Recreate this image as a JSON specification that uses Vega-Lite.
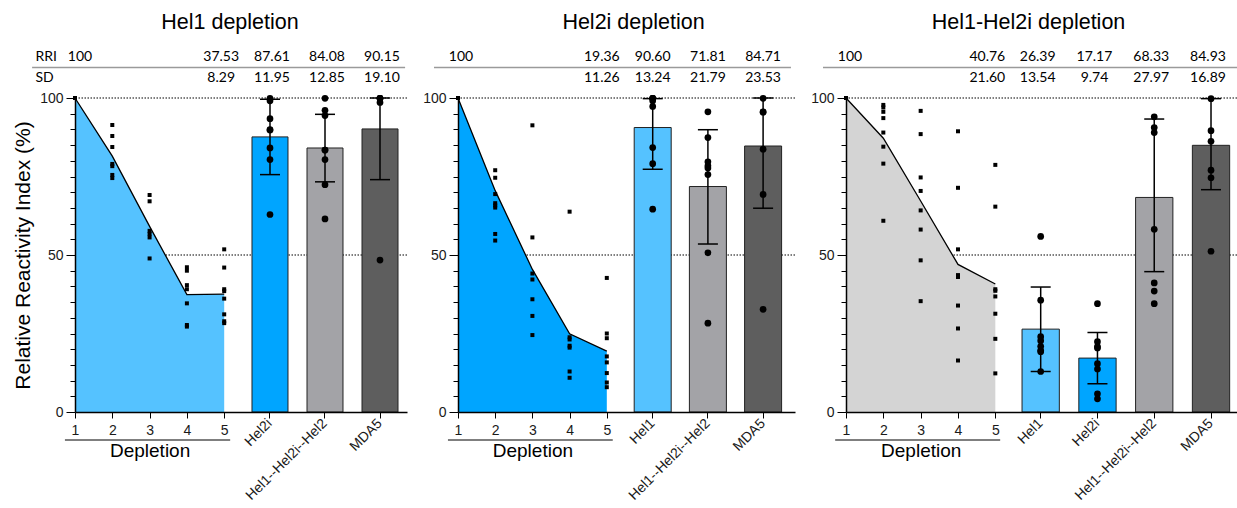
{
  "$schema": "https://vega.github.io/schema/vega-lite/v6.json",
  "padding": {"left": 12, "top": 11, "right": 0, "bottom": 0},
  "background": "white",
  "config": {
    "view": {"stroke": null},
    "axis": {"domainColor": "black", "tickColor": "black", "labelColor": "#1a1a1a", "labelFont": "Liberation Sans", "titleFont": "Liberation Sans", "titleFontWeight": "normal", "titleColor": "black", "grid": false, "labelFontSize": 14},
    "title": {"font": "Liberation Sans", "fontWeight": "normal", "fontSize": 21.5, "color": "black"}
  },
  "datasets": {
    "refs": [{"level": 100}, {"level": 50}],
    "means": [
      {"panel": "Hel1", "step": 1, "RRI": 100},
      {"panel": "Hel1", "step": 2, "RRI": 81.5},
      {"panel": "Hel1", "step": 3, "RRI": 59.1},
      {"panel": "Hel1", "step": 4, "RRI": 37.4},
      {"panel": "Hel1", "step": 5, "RRI": 37.53, "SD": 8.29},
      {"panel": "Hel2i", "step": 1, "RRI": 100},
      {"panel": "Hel2i", "step": 2, "RRI": 70.5},
      {"panel": "Hel2i", "step": 3, "RRI": 45.4},
      {"panel": "Hel2i", "step": 4, "RRI": 24.9},
      {"panel": "Hel2i", "step": 5, "RRI": 19.36, "SD": 11.26},
      {"panel": "Hel1-Hel2i", "step": 1, "RRI": 100},
      {"panel": "Hel1-Hel2i", "step": 2, "RRI": 87.2},
      {"panel": "Hel1-Hel2i", "step": 3, "RRI": 67.2},
      {"panel": "Hel1-Hel2i", "step": 4, "RRI": 47.0},
      {"panel": "Hel1-Hel2i", "step": 5, "RRI": 40.76, "SD": 21.6}
    ],
    "points": [
      {"panel": "Hel1", "step": 1, "value": 100},
      {"panel": "Hel1", "step": 2, "value": 91.4}, {"panel": "Hel1", "step": 2, "value": 87.9}, {"panel": "Hel1", "step": 2, "value": 84.4}, {"panel": "Hel1", "step": 2, "value": 79.0}, {"panel": "Hel1", "step": 2, "value": 78.3}, {"panel": "Hel1", "step": 2, "value": 75.5}, {"panel": "Hel1", "step": 2, "value": 74.5},
      {"panel": "Hel1", "step": 3, "value": 69.1}, {"panel": "Hel1", "step": 3, "value": 67.1}, {"panel": "Hel1", "step": 3, "value": 57.7}, {"panel": "Hel1", "step": 3, "value": 56.7}, {"panel": "Hel1", "step": 3, "value": 55.6}, {"panel": "Hel1", "step": 3, "value": 48.9},
      {"panel": "Hel1", "step": 4, "value": 46.1}, {"panel": "Hel1", "step": 4, "value": 45.0}, {"panel": "Hel1", "step": 4, "value": 40.4}, {"panel": "Hel1", "step": 4, "value": 39.1}, {"panel": "Hel1", "step": 4, "value": 34.6}, {"panel": "Hel1", "step": 4, "value": 27.7}, {"panel": "Hel1", "step": 4, "value": 27.2},
      {"panel": "Hel1", "step": 5, "value": 51.8}, {"panel": "Hel1", "step": 5, "value": 46.0}, {"panel": "Hel1", "step": 5, "value": 39.1}, {"panel": "Hel1", "step": 5, "value": 38.5}, {"panel": "Hel1", "step": 5, "value": 36.1}, {"panel": "Hel1", "step": 5, "value": 31.1}, {"panel": "Hel1", "step": 5, "value": 28.9}, {"panel": "Hel1", "step": 5, "value": 28.3},
      {"panel": "Hel2i", "step": 1, "value": 100},
      {"panel": "Hel2i", "step": 2, "value": 77.0}, {"panel": "Hel2i", "step": 2, "value": 74.6}, {"panel": "Hel2i", "step": 2, "value": 69.4}, {"panel": "Hel2i", "step": 2, "value": 66.5}, {"panel": "Hel2i", "step": 2, "value": 65.8}, {"panel": "Hel2i", "step": 2, "value": 65.1}, {"panel": "Hel2i", "step": 2, "value": 56.7}, {"panel": "Hel2i", "step": 2, "value": 54.6},
      {"panel": "Hel2i", "step": 3, "value": 91.3}, {"panel": "Hel2i", "step": 3, "value": 55.6}, {"panel": "Hel2i", "step": 3, "value": 44.1}, {"panel": "Hel2i", "step": 3, "value": 42.2}, {"panel": "Hel2i", "step": 3, "value": 35.9}, {"panel": "Hel2i", "step": 3, "value": 30.6}, {"panel": "Hel2i", "step": 3, "value": 24.5},
      {"panel": "Hel2i", "step": 4, "value": 63.8}, {"panel": "Hel2i", "step": 4, "value": 23.8}, {"panel": "Hel2i", "step": 4, "value": 23.1}, {"panel": "Hel2i", "step": 4, "value": 21.1}, {"panel": "Hel2i", "step": 4, "value": 20.5}, {"panel": "Hel2i", "step": 4, "value": 12.9}, {"panel": "Hel2i", "step": 4, "value": 10.9},
      {"panel": "Hel2i", "step": 5, "value": 42.7}, {"panel": "Hel2i", "step": 5, "value": 25.0}, {"panel": "Hel2i", "step": 5, "value": 23.5}, {"panel": "Hel2i", "step": 5, "value": 17.7}, {"panel": "Hel2i", "step": 5, "value": 15.8}, {"panel": "Hel2i", "step": 5, "value": 12.4}, {"panel": "Hel2i", "step": 5, "value": 9.4}, {"panel": "Hel2i", "step": 5, "value": 7.9},
      {"panel": "Hel1-Hel2i", "step": 1, "value": 100},
      {"panel": "Hel1-Hel2i", "step": 2, "value": 97.8}, {"panel": "Hel1-Hel2i", "step": 2, "value": 97.0}, {"panel": "Hel1-Hel2i", "step": 2, "value": 95.6}, {"panel": "Hel1-Hel2i", "step": 2, "value": 93.6}, {"panel": "Hel1-Hel2i", "step": 2, "value": 89.0}, {"panel": "Hel1-Hel2i", "step": 2, "value": 84.5}, {"panel": "Hel1-Hel2i", "step": 2, "value": 79.1}, {"panel": "Hel1-Hel2i", "step": 2, "value": 60.9},
      {"panel": "Hel1-Hel2i", "step": 3, "value": 95.9}, {"panel": "Hel1-Hel2i", "step": 3, "value": 88.5}, {"panel": "Hel1-Hel2i", "step": 3, "value": 74.7}, {"panel": "Hel1-Hel2i", "step": 3, "value": 70.4}, {"panel": "Hel1-Hel2i", "step": 3, "value": 64.2}, {"panel": "Hel1-Hel2i", "step": 3, "value": 58.1}, {"panel": "Hel1-Hel2i", "step": 3, "value": 48.3}, {"panel": "Hel1-Hel2i", "step": 3, "value": 35.3},
      {"panel": "Hel1-Hel2i", "step": 4, "value": 89.4}, {"panel": "Hel1-Hel2i", "step": 4, "value": 71.4}, {"panel": "Hel1-Hel2i", "step": 4, "value": 51.8}, {"panel": "Hel1-Hel2i", "step": 4, "value": 43.6}, {"panel": "Hel1-Hel2i", "step": 4, "value": 43.0}, {"panel": "Hel1-Hel2i", "step": 4, "value": 33.9}, {"panel": "Hel1-Hel2i", "step": 4, "value": 26.6}, {"panel": "Hel1-Hel2i", "step": 4, "value": 16.4},
      {"panel": "Hel1-Hel2i", "step": 5, "value": 78.7}, {"panel": "Hel1-Hel2i", "step": 5, "value": 65.4}, {"panel": "Hel1-Hel2i", "step": 5, "value": 39.1}, {"panel": "Hel1-Hel2i", "step": 5, "value": 38.6}, {"panel": "Hel1-Hel2i", "step": 5, "value": 36.8}, {"panel": "Hel1-Hel2i", "step": 5, "value": 31.3}, {"panel": "Hel1-Hel2i", "step": 5, "value": 23.3}, {"panel": "Hel1-Hel2i", "step": 5, "value": 12.3}
    ],
    "bars": [
      {"panel": "Hel1", "target": "Hel2i", "RRI": 87.61, "SD": 11.95, "lo": 75.6, "hi": 99.6},
      {"panel": "Hel1", "target": "Hel1--Hel2i--Hel2", "RRI": 84.08, "SD": 12.85, "lo": 73.3, "hi": 94.8},
      {"panel": "Hel1", "target": "MDA5", "RRI": 90.15, "SD": 19.1, "lo": 74.0, "hi": 100},
      {"panel": "Hel2i", "target": "Hel1", "RRI": 90.6, "SD": 13.24, "lo": 77.3, "hi": 99.8},
      {"panel": "Hel2i", "target": "Hel1--Hel2i--Hel2", "RRI": 71.81, "SD": 21.79, "lo": 53.5, "hi": 89.9},
      {"panel": "Hel2i", "target": "MDA5", "RRI": 84.71, "SD": 23.53, "lo": 64.9, "hi": 100},
      {"panel": "Hel1-Hel2i", "target": "Hel1", "RRI": 26.39, "SD": 13.54, "lo": 12.9, "hi": 39.8},
      {"panel": "Hel1-Hel2i", "target": "Hel2i", "RRI": 17.17, "SD": 9.74, "lo": 9.0, "hi": 25.3},
      {"panel": "Hel1-Hel2i", "target": "Hel1--Hel2i--Hel2", "RRI": 68.33, "SD": 27.97, "lo": 44.7, "hi": 93.3},
      {"panel": "Hel1-Hel2i", "target": "MDA5", "RRI": 84.93, "SD": 16.89, "lo": 70.8, "hi": 99.8}
    ],
    "dots": [
      {"panel": "Hel1", "target": "Hel2i", "value": 99.1}, {"panel": "Hel1", "target": "Hel2i", "value": 99.9}, {"panel": "Hel1", "target": "Hel2i", "value": 93.4}, {"panel": "Hel1", "target": "Hel2i", "value": 89.9}, {"panel": "Hel1", "target": "Hel2i", "value": 89.8}, {"panel": "Hel1", "target": "Hel2i", "value": 84.1}, {"panel": "Hel1", "target": "Hel2i", "value": 80.4}, {"panel": "Hel1", "target": "Hel2i", "value": 62.9},
      {"panel": "Hel1", "target": "Hel1--Hel2i--Hel2", "value": 99.9}, {"panel": "Hel1", "target": "Hel1--Hel2i--Hel2", "value": 96.1}, {"panel": "Hel1", "target": "Hel1--Hel2i--Hel2", "value": 94.4}, {"panel": "Hel1", "target": "Hel1--Hel2i--Hel2", "value": 83.4}, {"panel": "Hel1", "target": "Hel1--Hel2i--Hel2", "value": 83.4}, {"panel": "Hel1", "target": "Hel1--Hel2i--Hel2", "value": 80.4}, {"panel": "Hel1", "target": "Hel1--Hel2i--Hel2", "value": 72.4}, {"panel": "Hel1", "target": "Hel1--Hel2i--Hel2", "value": 61.5},
      {"panel": "Hel1", "target": "MDA5", "value": 99.9}, {"panel": "Hel1", "target": "MDA5", "value": 98.6}, {"panel": "Hel1", "target": "MDA5", "value": 99.9}, {"panel": "Hel1", "target": "MDA5", "value": 99.9}, {"panel": "Hel1", "target": "MDA5", "value": 48.4},
      {"panel": "Hel2i", "target": "Hel1", "value": 99.9}, {"panel": "Hel2i", "target": "Hel1", "value": 99.1}, {"panel": "Hel2i", "target": "Hel1", "value": 99.9}, {"panel": "Hel2i", "target": "Hel1", "value": 99.9}, {"panel": "Hel2i", "target": "Hel1", "value": 97.3}, {"panel": "Hel2i", "target": "Hel1", "value": 84.2}, {"panel": "Hel2i", "target": "Hel1", "value": 79.1}, {"panel": "Hel2i", "target": "Hel1", "value": 64.6},
      {"panel": "Hel2i", "target": "Hel1--Hel2i--Hel2", "value": 95.6}, {"panel": "Hel2i", "target": "Hel1--Hel2i--Hel2", "value": 87.4}, {"panel": "Hel2i", "target": "Hel1--Hel2i--Hel2", "value": 78.4}, {"panel": "Hel2i", "target": "Hel1--Hel2i--Hel2", "value": 79.7}, {"panel": "Hel2i", "target": "Hel1--Hel2i--Hel2", "value": 77.7}, {"panel": "Hel2i", "target": "Hel1--Hel2i--Hel2", "value": 75.6}, {"panel": "Hel2i", "target": "Hel1--Hel2i--Hel2", "value": 50.7}, {"panel": "Hel2i", "target": "Hel1--Hel2i--Hel2", "value": 28.3},
      {"panel": "Hel2i", "target": "MDA5", "value": 99.9}, {"panel": "Hel2i", "target": "MDA5", "value": 95.6}, {"panel": "Hel2i", "target": "MDA5", "value": 95.5}, {"panel": "Hel2i", "target": "MDA5", "value": 83.7}, {"panel": "Hel2i", "target": "MDA5", "value": 69.3}, {"panel": "Hel2i", "target": "MDA5", "value": 32.7},
      {"panel": "Hel1-Hel2i", "target": "Hel1", "value": 55.9}, {"panel": "Hel1-Hel2i", "target": "Hel1", "value": 35.6}, {"panel": "Hel1-Hel2i", "target": "Hel1", "value": 24.0}, {"panel": "Hel1-Hel2i", "target": "Hel1", "value": 22.7}, {"panel": "Hel1-Hel2i", "target": "Hel1", "value": 20.9}, {"panel": "Hel1-Hel2i", "target": "Hel1", "value": 19.6}, {"panel": "Hel1-Hel2i", "target": "Hel1", "value": 19.2}, {"panel": "Hel1-Hel2i", "target": "Hel1", "value": 12.9},
      {"panel": "Hel1-Hel2i", "target": "Hel2i", "value": 34.5}, {"panel": "Hel1-Hel2i", "target": "Hel2i", "value": 22.4}, {"panel": "Hel1-Hel2i", "target": "Hel2i", "value": 20.4}, {"panel": "Hel1-Hel2i", "target": "Hel2i", "value": 20.8}, {"panel": "Hel1-Hel2i", "target": "Hel2i", "value": 15.4}, {"panel": "Hel1-Hel2i", "target": "Hel2i", "value": 13.7}, {"panel": "Hel1-Hel2i", "target": "Hel2i", "value": 5.8}, {"panel": "Hel1-Hel2i", "target": "Hel2i", "value": 4.2},
      {"panel": "Hel1-Hel2i", "target": "Hel1--Hel2i--Hel2", "value": 94.0}, {"panel": "Hel1-Hel2i", "target": "Hel1--Hel2i--Hel2", "value": 90.6}, {"panel": "Hel1-Hel2i", "target": "Hel1--Hel2i--Hel2", "value": 89.0}, {"panel": "Hel1-Hel2i", "target": "Hel1--Hel2i--Hel2", "value": 58.2}, {"panel": "Hel1-Hel2i", "target": "Hel1--Hel2i--Hel2", "value": 41.1}, {"panel": "Hel1-Hel2i", "target": "Hel1--Hel2i--Hel2", "value": 38.5}, {"panel": "Hel1-Hel2i", "target": "Hel1--Hel2i--Hel2", "value": 34.5},
      {"panel": "Hel1-Hel2i", "target": "MDA5", "value": 99.8}, {"panel": "Hel1-Hel2i", "target": "MDA5", "value": 89.6}, {"panel": "Hel1-Hel2i", "target": "MDA5", "value": 86.2}, {"panel": "Hel1-Hel2i", "target": "MDA5", "value": 77.0}, {"panel": "Hel1-Hel2i", "target": "MDA5", "value": 74.6}, {"panel": "Hel1-Hel2i", "target": "MDA5", "value": 51.2}
    ]
  },
  "columns": 3,
  "bounds": "flush",
  "align": "each",
  "spacing": {"row": 9, "column": 51},
  "concat": [
    {
      "width": 332, "height": 43,
      "title": {"text": "Hel1 depletion", "offset": 13, "dx": -11},
      "resolve": {"scale": {"x": "independent"}, "axis": {"x": "independent", "y": "independent"}},
      "layer": [
        {"data": {"name": "means"}, "transform": [{"filter": {"field": "panel", "equal": "Hel1"}}, {"filter": {"field": "step", "equal": 1}}],
         "mark": {"type": "text", "font": "Lato", "fontSize": 14, "color": "black", "dx": 5},
         "encoding": {"x": {"field": "step", "type": "quantitative", "scale": {"domain": [1, 9.901], "nice": false, "zero": false}, "axis": null},
           "y": {"datum": "RRI", "scale": {"type": "band", "domain": ["RRI", "SD"], "paddingInner": 0, "paddingOuter": 0}, "bandPosition": 0.5,
             "axis": {"orient": "left", "domain": false, "ticks": false, "tickSize": 0, "labelAlign": "left", "labelBaseline": "middle", "labelPadding": 40, "labelFont": "Lato", "labelFontSize": 14, "labelColor": "black", "title": null}},
           "text": {"field": "RRI", "type": "quantitative", "format": ".0f"}}},
        {"data": {"name": "means"}, "transform": [{"filter": {"field": "panel", "equal": "Hel1"}}, {"filter": {"field": "step", "equal": 5}}],
         "mark": {"type": "text", "font": "Lato", "fontSize": 14, "color": "black", "dx": -3},
         "encoding": {"x": {"field": "step", "type": "quantitative", "scale": {"domain": [1, 9.901], "nice": false, "zero": false}, "axis": null},
           "y": {"datum": "RRI", "bandPosition": 0.5, "axis": null},
           "text": {"field": "RRI", "type": "quantitative", "format": ".2f"}}},
        {"data": {"name": "means"}, "transform": [{"filter": {"field": "panel", "equal": "Hel1"}}, {"filter": {"field": "step", "equal": 5}}],
         "mark": {"type": "text", "font": "Lato", "fontSize": 14, "color": "black", "dx": -3},
         "encoding": {"x": {"field": "step", "type": "quantitative", "scale": {"domain": [1, 9.901], "nice": false, "zero": false}, "axis": null},
           "y": {"datum": "SD", "bandPosition": 0.5, "axis": null},
           "text": {"field": "SD", "type": "quantitative", "format": ".2f"}}},
        {"data": {"name": "bars"}, "transform": [{"filter": {"field": "panel", "equal": "Hel1"}}],
         "mark": {"type": "text", "font": "Lato", "fontSize": 14, "color": "black", "dx": 2},
         "encoding": {"x": {"field": "target", "type": "nominal", "scale": {"type": "band", "domain": ["Hel2i", "Hel1--Hel2i--Hel2", "MDA5"], "range": [168, 332], "paddingInner": 0.3455, "paddingOuter": 0.1636}, "axis": null},
           "y": {"datum": "RRI", "bandPosition": 0.5, "axis": null},
           "text": {"field": "RRI", "type": "quantitative", "format": ".2f"}}},
        {"data": {"name": "bars"}, "transform": [{"filter": {"field": "panel", "equal": "Hel1"}}],
         "mark": {"type": "text", "font": "Lato", "fontSize": 14, "color": "black", "dx": 2},
         "encoding": {"x": {"field": "target", "type": "nominal", "scale": {"type": "band", "domain": ["Hel2i", "Hel1--Hel2i--Hel2", "MDA5"], "range": [168, 332], "paddingInner": 0.3455, "paddingOuter": 0.1636}, "axis": null},
           "y": {"datum": "SD", "bandPosition": 0.5, "axis": null},
           "text": {"field": "SD", "type": "quantitative", "format": ".2f"}}},
        {"data": {"values": [{}]},
         "mark": {"type": "rule", "color": "#9a9a9a", "strokeWidth": 1.5},
         "encoding": {"x": {"datum": -0.15, "type": "quantitative", "scale": {"domain": [1, 9.901], "nice": false, "zero": false}, "axis": null},
           "x2": {"datum": 9.85},
           "y": {"datum": "SD", "bandPosition": 0, "axis": null}}}
      ]
    },
    {
      "width": 337, "height": 43,
      "title": {"text": "Hel2i depletion", "offset": 13, "dx": 7},
      "resolve": {"scale": {"x": "independent"}, "axis": {"x": "independent", "y": "independent"}},
      "layer": [
        {"data": {"name": "means"}, "transform": [{"filter": {"field": "panel", "equal": "Hel2i"}}, {"filter": {"field": "step", "equal": 1}}],
         "mark": {"type": "text", "font": "Lato", "fontSize": 14, "color": "black", "dx": 3},
         "encoding": {"x": {"field": "step", "type": "quantitative", "scale": {"domain": [1, 10.059], "nice": false, "zero": false}, "axis": null},
           "y": {"datum": "RRI", "scale": {"type": "band", "domain": ["RRI", "SD"], "paddingInner": 0, "paddingOuter": 0}, "bandPosition": 0.5, "axis": null},
           "text": {"field": "RRI", "type": "quantitative", "format": ".0f"}}},
        {"data": {"name": "means"}, "transform": [{"filter": {"field": "panel", "equal": "Hel2i"}}, {"filter": {"field": "step", "equal": 5}}],
         "mark": {"type": "text", "font": "Lato", "fontSize": 14, "color": "black", "dx": -5},
         "encoding": {"x": {"field": "step", "type": "quantitative", "scale": {"domain": [1, 10.059], "nice": false, "zero": false}, "axis": null},
           "y": {"datum": "RRI", "bandPosition": 0.5, "axis": null},
           "text": {"field": "RRI", "type": "quantitative", "format": ".2f"}}},
        {"data": {"name": "means"}, "transform": [{"filter": {"field": "panel", "equal": "Hel2i"}}, {"filter": {"field": "step", "equal": 5}}],
         "mark": {"type": "text", "font": "Lato", "fontSize": 14, "color": "black", "dx": -5},
         "encoding": {"x": {"field": "step", "type": "quantitative", "scale": {"domain": [1, 10.059], "nice": false, "zero": false}, "axis": null},
           "y": {"datum": "SD", "bandPosition": 0.5, "axis": null},
           "text": {"field": "SD", "type": "quantitative", "format": ".2f"}}},
        {"data": {"name": "bars"}, "transform": [{"filter": {"field": "panel", "equal": "Hel2i"}}],
         "mark": {"type": "text", "font": "Lato", "fontSize": 14, "color": "black"},
         "encoding": {"x": {"field": "target", "type": "nominal", "scale": {"type": "band", "domain": ["Hel1", "Hel1--Hel2i--Hel2", "MDA5"], "range": [162.8, 337], "paddingInner": 0.3297, "paddingOuter": 0.2428}, "axis": null},
           "y": {"datum": "RRI", "bandPosition": 0.5, "axis": null},
           "text": {"field": "RRI", "type": "quantitative", "format": ".2f"}}},
        {"data": {"name": "bars"}, "transform": [{"filter": {"field": "panel", "equal": "Hel2i"}}],
         "mark": {"type": "text", "font": "Lato", "fontSize": 14, "color": "black"},
         "encoding": {"x": {"field": "target", "type": "nominal", "scale": {"type": "band", "domain": ["Hel1", "Hel1--Hel2i--Hel2", "MDA5"], "range": [162.8, 337], "paddingInner": 0.3297, "paddingOuter": 0.2428}, "axis": null},
           "y": {"datum": "SD", "bandPosition": 0.5, "axis": null},
           "text": {"field": "SD", "type": "quantitative", "format": ".2f"}}},
        {"data": {"values": [{}]},
         "mark": {"type": "rule", "color": "#9a9a9a", "strokeWidth": 1.5},
         "encoding": {"x": {"datum": 0.355, "type": "quantitative", "scale": {"domain": [1, 10.059], "nice": false, "zero": false}, "axis": null},
           "x2": {"datum": 9.95},
           "y": {"datum": "SD", "bandPosition": 0, "axis": null}}}
      ]
    },
    {
      "width": 391, "height": 43,
      "title": {"text": "Hel1-Hel2i depletion", "offset": 13, "dx": -13},
      "resolve": {"scale": {"x": "independent"}, "axis": {"x": "independent", "y": "independent"}},
      "layer": [
        {"data": {"name": "means"}, "transform": [{"filter": {"field": "panel", "equal": "Hel1-Hel2i"}}, {"filter": {"field": "step", "equal": 1}}],
         "mark": {"type": "text", "font": "Lato", "fontSize": 14, "color": "black", "dx": 4},
         "encoding": {"x": {"field": "step", "type": "quantitative", "scale": {"domain": [1, 11.474], "nice": false, "zero": false}, "axis": null},
           "y": {"datum": "RRI", "scale": {"type": "band", "domain": ["RRI", "SD"], "paddingInner": 0, "paddingOuter": 0}, "bandPosition": 0.5, "axis": null},
           "text": {"field": "RRI", "type": "quantitative", "format": ".0f"}}},
        {"data": {"name": "means"}, "transform": [{"filter": {"field": "panel", "equal": "Hel1-Hel2i"}}, {"filter": {"field": "step", "equal": 5}}],
         "mark": {"type": "text", "font": "Lato", "fontSize": 14, "color": "black", "dx": -8},
         "encoding": {"x": {"field": "step", "type": "quantitative", "scale": {"domain": [1, 11.474], "nice": false, "zero": false}, "axis": null},
           "y": {"datum": "RRI", "bandPosition": 0.5, "axis": null},
           "text": {"field": "RRI", "type": "quantitative", "format": ".2f"}}},
        {"data": {"name": "means"}, "transform": [{"filter": {"field": "panel", "equal": "Hel1-Hel2i"}}, {"filter": {"field": "step", "equal": 5}}],
         "mark": {"type": "text", "font": "Lato", "fontSize": 14, "color": "black", "dx": -8},
         "encoding": {"x": {"field": "step", "type": "quantitative", "scale": {"domain": [1, 11.474], "nice": false, "zero": false}, "axis": null},
           "y": {"datum": "SD", "bandPosition": 0.5, "axis": null},
           "text": {"field": "SD", "type": "quantitative", "format": ".2f"}}},
        {"data": {"name": "bars"}, "transform": [{"filter": {"field": "panel", "equal": "Hel1-Hel2i"}}],
         "mark": {"type": "text", "font": "Lato", "fontSize": 14, "color": "black", "dx": -3},
         "encoding": {"x": {"field": "target", "type": "nominal", "scale": {"type": "band", "domain": ["Hel1", "Hel2i", "Hel1--Hel2i--Hel2", "MDA5"], "range": [168.7, 391], "paddingInner": 0.343, "paddingOuter": 0.1293}, "axis": null},
           "y": {"datum": "RRI", "bandPosition": 0.5, "axis": null},
           "text": {"field": "RRI", "type": "quantitative", "format": ".2f"}}},
        {"data": {"name": "bars"}, "transform": [{"filter": {"field": "panel", "equal": "Hel1-Hel2i"}}],
         "mark": {"type": "text", "font": "Lato", "fontSize": 14, "color": "black", "dx": -3},
         "encoding": {"x": {"field": "target", "type": "nominal", "scale": {"type": "band", "domain": ["Hel1", "Hel2i", "Hel1--Hel2i--Hel2", "MDA5"], "range": [168.7, 391], "paddingInner": 0.343, "paddingOuter": 0.1293}, "axis": null},
           "y": {"datum": "SD", "bandPosition": 0.5, "axis": null},
           "text": {"field": "SD", "type": "quantitative", "format": ".2f"}}},
        {"data": {"values": [{}]},
         "mark": {"type": "rule", "color": "#9a9a9a", "strokeWidth": 1.5},
         "encoding": {"x": {"datum": 0.384, "type": "quantitative", "scale": {"domain": [1, 11.474], "nice": false, "zero": false}, "axis": null},
           "x2": {"datum": 11.474},
           "y": {"datum": "SD", "bandPosition": 0, "axis": null}}}
      ]
    },
    {
      "width": 332, "height": 314,
      "resolve": {"scale": {"x": "independent"}, "axis": {"x": "independent", "y": "independent"}},
      "layer": [
        {"data": {"name": "refs"}, "mark": {"type": "rule", "color": "black", "strokeWidth": 1.2, "strokeDash": [1.5, 1.5]},
         "encoding": {"y": {"field": "level", "type": "quantitative", "scale": {"domain": [0, 100], "nice": false, "zero": false}, "axis": null}}},
        {"data": {"name": "means"}, "transform": [{"filter": {"field": "panel", "equal": "Hel1"}}],
         "mark": {"type": "area", "color": "#55C2FF", "opacity": 1},
         "encoding": {"x": {"field": "step", "type": "quantitative", "scale": {"domain": [1, 9.901], "nice": false, "zero": false},
             "axis": {"orient": "bottom", "values": [1, 2, 3, 4, 5], "format": "d", "domain": true, "domainWidth": 1.5, "tickSize": 6, "labelPadding": 5, "labelAngle": 0, "labelFlush": false, "labelOverlap": false, "title": "Depletion", "titleFontSize": 19, "titlePadding": 4, "titleX": 74.6, "titleAlign": "center", "zindex": 1}},
           "y": {"field": "RRI", "type": "quantitative", "scale": {"domain": [0, 100], "nice": false, "zero": false}, "axis": null}}},
        {"data": {"name": "means"}, "transform": [{"filter": {"field": "panel", "equal": "Hel1"}}],
         "mark": {"type": "line", "color": "black", "strokeWidth": 1.3},
         "encoding": {"x": {"field": "step", "type": "quantitative", "scale": {"domain": [1, 9.901], "nice": false, "zero": false}, "axis": null},
           "y": {"field": "RRI", "type": "quantitative", "scale": {"domain": [0, 100], "nice": false, "zero": false}, "axis": null}}},
        {"data": {"name": "points"}, "transform": [{"filter": {"field": "panel", "equal": "Hel1"}}],
         "mark": {"type": "point", "shape": "square", "filled": true, "size": 16, "color": "black", "opacity": 1},
         "encoding": {"x": {"field": "step", "type": "quantitative", "scale": {"domain": [1, 9.901], "nice": false, "zero": false}, "axis": null},
           "y": {"field": "value", "type": "quantitative", "scale": {"domain": [0, 100], "nice": false, "zero": false}, "axis": null}}},
        {"data": {"values": [{}]},
         "mark": {"type": "rule", "color": "#555555", "strokeWidth": 1.5},
         "encoding": {"x": {"datum": 0.73, "type": "quantitative", "scale": {"domain": [1, 9.901], "nice": false, "zero": false}, "axis": null},
           "x2": {"datum": 5.16},
           "y": {"datum": -8.9, "type": "quantitative", "scale": {"domain": [0, 100], "nice": false, "zero": false}, "axis": null}}},
        {"data": {"name": "bars"}, "transform": [{"filter": {"field": "panel", "equal": "Hel1"}}],
         "mark": {"type": "bar", "stroke": "#222222", "strokeWidth": 1},
         "encoding": {"x": {"field": "target", "type": "nominal", "scale": {"type": "band", "domain": ["Hel2i", "Hel1--Hel2i--Hel2", "MDA5"], "range": [168, 332], "paddingInner": 0.3455, "paddingOuter": 0.1636},
             "axis": {"orient": "bottom", "domain": false, "tickSize": 6, "labelAngle": -45, "labelAlign": "right", "labelBaseline": "middle", "labelPadding": 3, "title": null, "zindex": 1}},
           "y": {"field": "RRI", "type": "quantitative", "scale": {"domain": [0, 100], "nice": false, "zero": false},
             "axis": {"orient": "left", "values": [0, 5, 10, 15, 20, 25, 30, 35, 40, 45, 50, 55, 60, 65, 70, 75, 80, 85, 90, 95, 100], "labelExpr": "datum.value % 50 === 0 ? datum.label : ''", "tickSize": {"condition": {"test": "datum.value % 50 === 0", "value": 9}, "value": 5}, "labelPadding": 3, "domainWidth": 1.5, "title": "Relative Reactivity Index (%)", "titleFontSize": 21, "titlePadding": 6, "zindex": 1}},
           "color": {"field": "target", "type": "nominal", "scale": {"domain": ["Hel1", "Hel2i", "Hel1--Hel2i--Hel2", "MDA5"], "range": ["#55C2FF", "#00A5FF", "#A3A3A7", "#5E5E5E"]}, "legend": null}}},
        {"data": {"name": "bars"}, "transform": [{"filter": {"field": "panel", "equal": "Hel1"}}],
         "mark": {"type": "rule", "color": "black", "strokeWidth": 1.5},
         "encoding": {"x": {"field": "target", "type": "nominal", "scale": {"type": "band", "domain": ["Hel2i", "Hel1--Hel2i--Hel2", "MDA5"], "range": [168, 332], "paddingInner": 0.3455, "paddingOuter": 0.1636}, "axis": null},
           "y": {"field": "lo", "type": "quantitative", "scale": {"domain": [0, 100], "nice": false, "zero": false}, "axis": null},
           "y2": {"field": "hi"}}},
        {"data": {"name": "bars"}, "transform": [{"filter": {"field": "panel", "equal": "Hel1"}}],
         "mark": {"type": "tick", "color": "black", "size": 20, "thickness": 1.5, "opacity": 1},
         "encoding": {"x": {"field": "target", "type": "nominal", "scale": {"type": "band", "domain": ["Hel2i", "Hel1--Hel2i--Hel2", "MDA5"], "range": [168, 332], "paddingInner": 0.3455, "paddingOuter": 0.1636}, "axis": null},
           "y": {"field": "lo", "type": "quantitative", "scale": {"domain": [0, 100], "nice": false, "zero": false}, "axis": null}}},
        {"data": {"name": "bars"}, "transform": [{"filter": {"field": "panel", "equal": "Hel1"}}],
         "mark": {"type": "tick", "color": "black", "size": 20, "thickness": 1.5, "opacity": 1},
         "encoding": {"x": {"field": "target", "type": "nominal", "scale": {"type": "band", "domain": ["Hel2i", "Hel1--Hel2i--Hel2", "MDA5"], "range": [168, 332], "paddingInner": 0.3455, "paddingOuter": 0.1636}, "axis": null},
           "y": {"field": "hi", "type": "quantitative", "scale": {"domain": [0, 100], "nice": false, "zero": false}, "axis": null}}},
        {"data": {"name": "dots"}, "transform": [{"filter": {"field": "panel", "equal": "Hel1"}}],
         "mark": {"type": "point", "shape": "circle", "filled": true, "size": 45, "color": "black", "opacity": 1},
         "encoding": {"x": {"field": "target", "type": "nominal", "scale": {"type": "band", "domain": ["Hel2i", "Hel1--Hel2i--Hel2", "MDA5"], "range": [168, 332], "paddingInner": 0.3455, "paddingOuter": 0.1636}, "axis": null},
           "y": {"field": "value", "type": "quantitative", "scale": {"domain": [0, 100], "nice": false, "zero": false}, "axis": null}}}
      ]
    },
    {
      "width": 337, "height": 314,
      "resolve": {"scale": {"x": "independent"}, "axis": {"x": "independent", "y": "independent"}},
      "layer": [
        {"data": {"name": "refs"}, "mark": {"type": "rule", "color": "black", "strokeWidth": 1.2, "strokeDash": [1.5, 1.5]},
         "encoding": {"y": {"field": "level", "type": "quantitative", "scale": {"domain": [0, 100], "nice": false, "zero": false}, "axis": null}}},
        {"data": {"name": "means"}, "transform": [{"filter": {"field": "panel", "equal": "Hel2i"}}],
         "mark": {"type": "area", "color": "#00A5FF", "opacity": 1},
         "encoding": {"x": {"field": "step", "type": "quantitative", "scale": {"domain": [1, 10.059], "nice": false, "zero": false},
             "axis": {"orient": "bottom", "values": [1, 2, 3, 4, 5], "format": "d", "domain": true, "domainWidth": 1.5, "tickSize": 6, "labelPadding": 5, "labelAngle": 0, "labelFlush": false, "labelOverlap": false, "title": "Depletion", "titleFontSize": 19, "titlePadding": 4, "titleX": 74.4, "titleAlign": "center", "zindex": 1}},
           "y": {"field": "RRI", "type": "quantitative", "scale": {"domain": [0, 100], "nice": false, "zero": false}, "axis": null}}},
        {"data": {"name": "means"}, "transform": [{"filter": {"field": "panel", "equal": "Hel2i"}}],
         "mark": {"type": "line", "color": "black", "strokeWidth": 1.3},
         "encoding": {"x": {"field": "step", "type": "quantitative", "scale": {"domain": [1, 10.059], "nice": false, "zero": false}, "axis": null},
           "y": {"field": "RRI", "type": "quantitative", "scale": {"domain": [0, 100], "nice": false, "zero": false}, "axis": null}}},
        {"data": {"name": "points"}, "transform": [{"filter": {"field": "panel", "equal": "Hel2i"}}],
         "mark": {"type": "point", "shape": "square", "filled": true, "size": 16, "color": "black", "opacity": 1},
         "encoding": {"x": {"field": "step", "type": "quantitative", "scale": {"domain": [1, 10.059], "nice": false, "zero": false}, "axis": null},
           "y": {"field": "value", "type": "quantitative", "scale": {"domain": [0, 100], "nice": false, "zero": false}, "axis": null}}},
        {"data": {"values": [{}]},
         "mark": {"type": "rule", "color": "#555555", "strokeWidth": 1.5},
         "encoding": {"x": {"datum": 0.73, "type": "quantitative", "scale": {"domain": [1, 10.059], "nice": false, "zero": false}, "axis": null},
           "x2": {"datum": 5.16},
           "y": {"datum": -8.9, "type": "quantitative", "scale": {"domain": [0, 100], "nice": false, "zero": false}, "axis": null}}},
        {"data": {"name": "bars"}, "transform": [{"filter": {"field": "panel", "equal": "Hel2i"}}],
         "mark": {"type": "bar", "stroke": "#222222", "strokeWidth": 1},
         "encoding": {"x": {"field": "target", "type": "nominal", "scale": {"type": "band", "domain": ["Hel1", "Hel1--Hel2i--Hel2", "MDA5"], "range": [162.8, 337], "paddingInner": 0.3297, "paddingOuter": 0.2428},
             "axis": {"orient": "bottom", "domain": false, "tickSize": 6, "labelAngle": -45, "labelAlign": "right", "labelBaseline": "middle", "labelPadding": 3, "title": null, "zindex": 1}},
           "y": {"field": "RRI", "type": "quantitative", "scale": {"domain": [0, 100], "nice": false, "zero": false},
             "axis": {"orient": "left", "values": [0, 5, 10, 15, 20, 25, 30, 35, 40, 45, 50, 55, 60, 65, 70, 75, 80, 85, 90, 95, 100], "labelExpr": "datum.value % 50 === 0 ? datum.label : ''", "tickSize": {"condition": {"test": "datum.value % 50 === 0", "value": 9}, "value": 5}, "labelPadding": 3, "domainWidth": 1.5, "title": null, "zindex": 1}},
           "color": {"field": "target", "type": "nominal", "scale": {"domain": ["Hel1", "Hel2i", "Hel1--Hel2i--Hel2", "MDA5"], "range": ["#55C2FF", "#00A5FF", "#A3A3A7", "#5E5E5E"]}, "legend": null}}},
        {"data": {"name": "bars"}, "transform": [{"filter": {"field": "panel", "equal": "Hel2i"}}],
         "mark": {"type": "rule", "color": "black", "strokeWidth": 1.5},
         "encoding": {"x": {"field": "target", "type": "nominal", "scale": {"type": "band", "domain": ["Hel1", "Hel1--Hel2i--Hel2", "MDA5"], "range": [162.8, 337], "paddingInner": 0.3297, "paddingOuter": 0.2428}, "axis": null},
           "y": {"field": "lo", "type": "quantitative", "scale": {"domain": [0, 100], "nice": false, "zero": false}, "axis": null},
           "y2": {"field": "hi"}}},
        {"data": {"name": "bars"}, "transform": [{"filter": {"field": "panel", "equal": "Hel2i"}}],
         "mark": {"type": "tick", "color": "black", "size": 20, "thickness": 1.5, "opacity": 1},
         "encoding": {"x": {"field": "target", "type": "nominal", "scale": {"type": "band", "domain": ["Hel1", "Hel1--Hel2i--Hel2", "MDA5"], "range": [162.8, 337], "paddingInner": 0.3297, "paddingOuter": 0.2428}, "axis": null},
           "y": {"field": "lo", "type": "quantitative", "scale": {"domain": [0, 100], "nice": false, "zero": false}, "axis": null}}},
        {"data": {"name": "bars"}, "transform": [{"filter": {"field": "panel", "equal": "Hel2i"}}],
         "mark": {"type": "tick", "color": "black", "size": 20, "thickness": 1.5, "opacity": 1},
         "encoding": {"x": {"field": "target", "type": "nominal", "scale": {"type": "band", "domain": ["Hel1", "Hel1--Hel2i--Hel2", "MDA5"], "range": [162.8, 337], "paddingInner": 0.3297, "paddingOuter": 0.2428}, "axis": null},
           "y": {"field": "hi", "type": "quantitative", "scale": {"domain": [0, 100], "nice": false, "zero": false}, "axis": null}}},
        {"data": {"name": "dots"}, "transform": [{"filter": {"field": "panel", "equal": "Hel2i"}}],
         "mark": {"type": "point", "shape": "circle", "filled": true, "size": 45, "color": "black", "opacity": 1},
         "encoding": {"x": {"field": "target", "type": "nominal", "scale": {"type": "band", "domain": ["Hel1", "Hel1--Hel2i--Hel2", "MDA5"], "range": [162.8, 337], "paddingInner": 0.3297, "paddingOuter": 0.2428}, "axis": null},
           "y": {"field": "value", "type": "quantitative", "scale": {"domain": [0, 100], "nice": false, "zero": false}, "axis": null}}}
      ]
    },
    {
      "width": 391, "height": 314,
      "resolve": {"scale": {"x": "independent"}, "axis": {"x": "independent", "y": "independent"}},
      "layer": [
        {"data": {"name": "refs"}, "mark": {"type": "rule", "color": "black", "strokeWidth": 1.2, "strokeDash": [1.5, 1.5]},
         "encoding": {"y": {"field": "level", "type": "quantitative", "scale": {"domain": [0, 100], "nice": false, "zero": false}, "axis": null}}},
        {"data": {"name": "means"}, "transform": [{"filter": {"field": "panel", "equal": "Hel1-Hel2i"}}],
         "mark": {"type": "area", "color": "#D4D4D4", "opacity": 1},
         "encoding": {"x": {"field": "step", "type": "quantitative", "scale": {"domain": [1, 11.474], "nice": false, "zero": false},
             "axis": {"orient": "bottom", "values": [1, 2, 3, 4, 5], "format": "d", "domain": true, "domainWidth": 1.5, "tickSize": 6, "labelPadding": 5, "labelAngle": 0, "labelFlush": false, "labelOverlap": false, "title": "Depletion", "titleFontSize": 19, "titlePadding": 4, "titleX": 74.7, "titleAlign": "center", "zindex": 1}},
           "y": {"field": "RRI", "type": "quantitative", "scale": {"domain": [0, 100], "nice": false, "zero": false}, "axis": null}}},
        {"data": {"name": "means"}, "transform": [{"filter": {"field": "panel", "equal": "Hel1-Hel2i"}}],
         "mark": {"type": "line", "color": "black", "strokeWidth": 1.3},
         "encoding": {"x": {"field": "step", "type": "quantitative", "scale": {"domain": [1, 11.474], "nice": false, "zero": false}, "axis": null},
           "y": {"field": "RRI", "type": "quantitative", "scale": {"domain": [0, 100], "nice": false, "zero": false}, "axis": null}}},
        {"data": {"name": "points"}, "transform": [{"filter": {"field": "panel", "equal": "Hel1-Hel2i"}}],
         "mark": {"type": "point", "shape": "square", "filled": true, "size": 16, "color": "black", "opacity": 1},
         "encoding": {"x": {"field": "step", "type": "quantitative", "scale": {"domain": [1, 11.474], "nice": false, "zero": false}, "axis": null},
           "y": {"field": "value", "type": "quantitative", "scale": {"domain": [0, 100], "nice": false, "zero": false}, "axis": null}}},
        {"data": {"values": [{}]},
         "mark": {"type": "rule", "color": "#555555", "strokeWidth": 1.5},
         "encoding": {"x": {"datum": 0.71, "type": "quantitative", "scale": {"domain": [1, 11.474], "nice": false, "zero": false}, "axis": null},
           "x2": {"datum": 5.13},
           "y": {"datum": -8.9, "type": "quantitative", "scale": {"domain": [0, 100], "nice": false, "zero": false}, "axis": null}}},
        {"data": {"name": "bars"}, "transform": [{"filter": {"field": "panel", "equal": "Hel1-Hel2i"}}],
         "mark": {"type": "bar", "stroke": "#222222", "strokeWidth": 1},
         "encoding": {"x": {"field": "target", "type": "nominal", "scale": {"type": "band", "domain": ["Hel1", "Hel2i", "Hel1--Hel2i--Hel2", "MDA5"], "range": [168.7, 391], "paddingInner": 0.343, "paddingOuter": 0.1293},
             "axis": {"orient": "bottom", "domain": false, "tickSize": 6, "labelAngle": -45, "labelAlign": "right", "labelBaseline": "middle", "labelPadding": 3, "title": null, "zindex": 1}},
           "y": {"field": "RRI", "type": "quantitative", "scale": {"domain": [0, 100], "nice": false, "zero": false},
             "axis": {"orient": "left", "values": [0, 5, 10, 15, 20, 25, 30, 35, 40, 45, 50, 55, 60, 65, 70, 75, 80, 85, 90, 95, 100], "labelExpr": "datum.value % 50 === 0 ? datum.label : ''", "tickSize": {"condition": {"test": "datum.value % 50 === 0", "value": 9}, "value": 5}, "labelPadding": 3, "domainWidth": 1.5, "title": null, "zindex": 1}},
           "color": {"field": "target", "type": "nominal", "scale": {"domain": ["Hel1", "Hel2i", "Hel1--Hel2i--Hel2", "MDA5"], "range": ["#55C2FF", "#00A5FF", "#A3A3A7", "#5E5E5E"]}, "legend": null}}},
        {"data": {"name": "bars"}, "transform": [{"filter": {"field": "panel", "equal": "Hel1-Hel2i"}}],
         "mark": {"type": "rule", "color": "black", "strokeWidth": 1.5},
         "encoding": {"x": {"field": "target", "type": "nominal", "scale": {"type": "band", "domain": ["Hel1", "Hel2i", "Hel1--Hel2i--Hel2", "MDA5"], "range": [168.7, 391], "paddingInner": 0.343, "paddingOuter": 0.1293}, "axis": null},
           "y": {"field": "lo", "type": "quantitative", "scale": {"domain": [0, 100], "nice": false, "zero": false}, "axis": null},
           "y2": {"field": "hi"}}},
        {"data": {"name": "bars"}, "transform": [{"filter": {"field": "panel", "equal": "Hel1-Hel2i"}}],
         "mark": {"type": "tick", "color": "black", "size": 20, "thickness": 1.5, "opacity": 1},
         "encoding": {"x": {"field": "target", "type": "nominal", "scale": {"type": "band", "domain": ["Hel1", "Hel2i", "Hel1--Hel2i--Hel2", "MDA5"], "range": [168.7, 391], "paddingInner": 0.343, "paddingOuter": 0.1293}, "axis": null},
           "y": {"field": "lo", "type": "quantitative", "scale": {"domain": [0, 100], "nice": false, "zero": false}, "axis": null}}},
        {"data": {"name": "bars"}, "transform": [{"filter": {"field": "panel", "equal": "Hel1-Hel2i"}}],
         "mark": {"type": "tick", "color": "black", "size": 20, "thickness": 1.5, "opacity": 1},
         "encoding": {"x": {"field": "target", "type": "nominal", "scale": {"type": "band", "domain": ["Hel1", "Hel2i", "Hel1--Hel2i--Hel2", "MDA5"], "range": [168.7, 391], "paddingInner": 0.343, "paddingOuter": 0.1293}, "axis": null},
           "y": {"field": "hi", "type": "quantitative", "scale": {"domain": [0, 100], "nice": false, "zero": false}, "axis": null}}},
        {"data": {"name": "dots"}, "transform": [{"filter": {"field": "panel", "equal": "Hel1-Hel2i"}}],
         "mark": {"type": "point", "shape": "circle", "filled": true, "size": 45, "color": "black", "opacity": 1},
         "encoding": {"x": {"field": "target", "type": "nominal", "scale": {"type": "band", "domain": ["Hel1", "Hel2i", "Hel1--Hel2i--Hel2", "MDA5"], "range": [168.7, 391], "paddingInner": 0.343, "paddingOuter": 0.1293}, "axis": null},
           "y": {"field": "value", "type": "quantitative", "scale": {"domain": [0, 100], "nice": false, "zero": false}, "axis": null}}}
      ]
    }
  ]
}
